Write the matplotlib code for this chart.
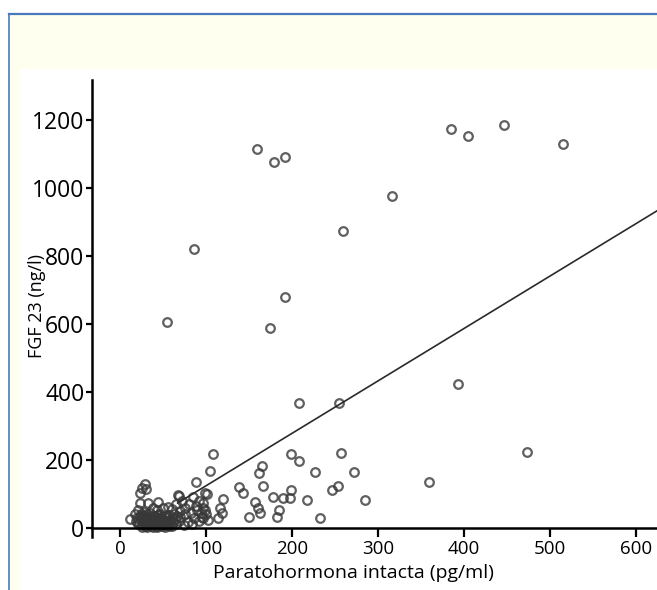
import numpy as np
import matplotlib.pyplot as plt
from matplotlib.patches import Rectangle
from matplotlib.lines import Line2D

plt.rcParams['font.family'] = ['Open Sans', 'DejaVu Sans']

# PTH intacta (pg/ml) vs FGF 23 (ng/l)
pth_core = [18, 20, 22, 24, 25, 26, 27, 28, 29, 30, 31, 32, 33, 34, 35, 36, 37, 38, 39, 40,
            41, 42, 43, 44, 45, 46, 47, 48, 49, 50, 51, 52, 53, 54, 55, 56, 57, 58, 59, 60,
            62, 63, 64, 65, 66,
            21, 23, 26, 28, 30, 32, 34, 36, 38, 40, 42, 44, 46, 48, 50, 52, 54, 56, 58, 61,
            24, 29, 33, 37, 41, 45, 49, 53, 57, 35, 39, 43, 47, 31, 27]
fgf_core = [22, 30, 15, 25, 10, 35, 20, 8, 28, 15, 40, 22, 10, 30, 18, 5, 25, 12, 35, 20,
            8, 28, 15, 38, 22, 10, 30, 18, 5, 26, 14, 34, 20, 8, 28, 16, 38, 24, 10, 30,
            18, 42, 26, 12, 35,
            12, 35, 4, 18, 6, 32, 14, 28, 4, 12, 22, 6, 26, 12, 20, 4, 16, 8, 20, 6,
            42, 36, 24, 16, 34, 14, 24, 12, 6, 44, 30, 4, 40, 4, 30]

pth_low = [12, 21, 23, 33, 44, 56, 43, 67, 76, 85, 90, 95, 99, 102, 70, 79, 70, 75, 80, 82,
           86, 88, 92, 94, 97, 72, 60, 65, 50, 38, 28, 17, 100, 84, 92, 74, 68,
           26, 23, 29, 30, 69, 88, 101, 105, 108, 97, 99, 97]
fgf_low = [26, 53, 74, 74, 76, 62, 53, 97, 59, 91, 53, 32, 103, 24, 32, 18, 50, 40, 70, 45,
           30, 65, 78, 45, 60, 80, 55, 70, 60, 60, 48, 40, 40, 12, 20, 10, 22,
           117, 103, 129, 115, 94, 135, 100, 168, 218, 74, 53, 29]

pth_mid = [120, 116, 119, 114, 138, 143, 157, 161, 163, 150, 165, 162, 166, 178, 190, 198,
           199, 185, 183, 199, 208, 217, 227, 233, 246, 253, 257, 272, 285, 359, 473]
fgf_mid = [85, 59, 44, 29, 121, 103, 76, 59, 44, 32, 182, 162, 124, 91, 88, 88,
           112, 53, 32, 218, 197, 82, 165, 29, 112, 124, 221, 165, 82, 135, 223]

pth_high = [55, 86, 159, 179, 192, 174, 192, 259, 208, 255, 393, 316, 385, 405, 447, 515]
fgf_high = [606, 821, 1115, 1076, 1091, 588, 679, 873, 368, 368, 424, 976, 1174, 1153, 1185, 1129]

pth = np.array(pth_core + pth_low + pth_mid + pth_high)
fgf = np.array(fgf_core + fgf_low + fgf_mid + fgf_high)

# regression line as drawn
fit_slope = 1.542
fit_intercept = -30
fit_start = 67

x_ticks = [0, 100, 200, 300, 400, 500, 600]
y_ticks = [0, 200, 400, 600, 800, 1000, 1200]

W, H = 657, 590
fig = plt.figure(figsize=(W / 100, H / 100), dpi=100, facecolor='white')

# cream frame with blue edge
cream = '#fffff0'
blue = '#4a78bd'
fig.patches.append(Rectangle((8 / W, 1 - 69 / H), 1, 55 / H, transform=fig.transFigure,
                             facecolor=cream, edgecolor='none', zorder=0))
fig.patches.append(Rectangle((8 / W, 0), 12 / W, 1 - 69 / H, transform=fig.transFigure,
                             facecolor=cream, edgecolor='none', zorder=0))
fig.lines.append(Line2D([8.5 / W, 1], [1 - 14 / H, 1 - 14 / H], transform=fig.transFigure,
                        color=blue, lw=1.6))
fig.lines.append(Line2D([8.5 / W, 8.5 / W], [0, 1 - 14 / H], transform=fig.transFigure,
                        color=blue, lw=1.2))

ax = fig.add_axes([92 / W, 53 / H, 565 / W, 457 / H])
ax.patch.set_alpha(0)

ax.plot(pth, fgf, 'o', ms=6.2, mfc='none', mec='#383838', mew=1.6, alpha=0.8, clip_on=False)

xs = np.array([fit_start, 630])
ax.plot(xs, fit_slope * xs + fit_intercept, color='#2a2a2a', lw=1.2)

ax.set_xlim(-32.6, 624.4)
ax.set_ylim(-26.5, 1317.6)
ax.set_xticks(x_ticks)
ax.set_yticks(y_ticks)

for s in ['top', 'right']:
    ax.spines[s].set_visible(False)
ax.spines['bottom'].set_position(('data', 0))
ax.spines['bottom'].set_linewidth(1.8)
ax.spines['left'].set_linewidth(1.8)

ax.tick_params(axis='x', direction='out', length=6.5, width=1.6, pad=2, labelsize=13.5)
ax.tick_params(axis='y', direction='out', length=4.5, width=1.6, pad=1, labelsize=16.5)

ax.text((353 - 92) / 565, (537 - 573) / 457, 'Paratohormona intacta (pg/ml)',
        transform=ax.transAxes, ha='center', va='center', fontsize=14)
ax.text((37 - 92) / 565, (537 - 306) / 457, 'FGF 23 (ng/l)', rotation=90,
        transform=ax.transAxes, ha='center', va='center', fontsize=13)

fig.savefig('out.png', dpi=100)
